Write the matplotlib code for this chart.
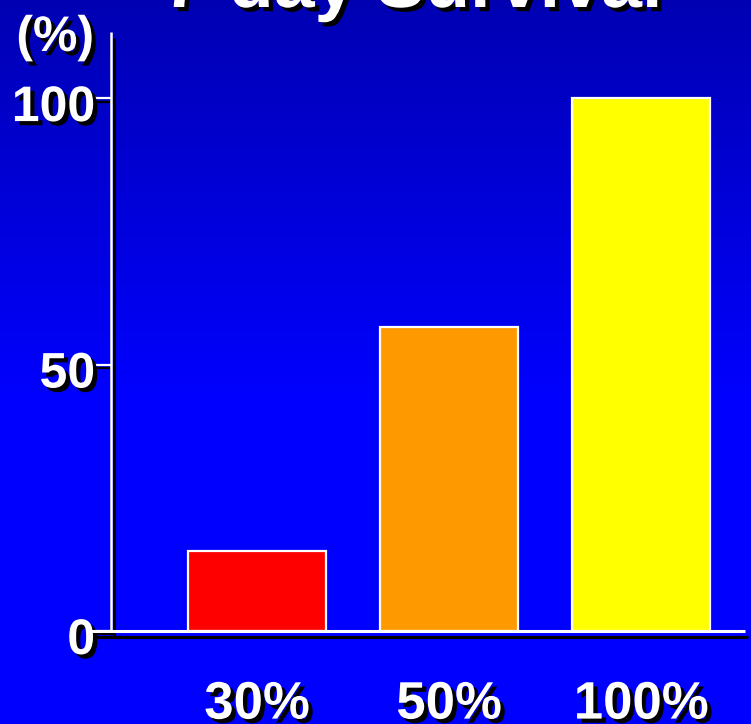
import numpy as np
import matplotlib
matplotlib.use("Agg")
import matplotlib.pyplot as plt
import matplotlib.patheffects as pe
import matplotlib.transforms as mtransforms

# Data
categories = ["30%", "50%", "100%"]
survival = [15, 57, 100]
bar_colors = ["#FF0000", "#FF9900", "#FFFF00"]
y_ticks = [0, 50, 100]
title = "7-day Survival"
y_unit = "(%)"

plt.rcParams["font.family"] = ["Liberation Sans", "DejaVu Sans"]
plt.rcParams["font.weight"] = "bold"

W, H = 751, 724
fig = plt.figure(figsize=(W / 100, H / 100), dpi=100)

# Vertical blue gradient background
bg = fig.add_axes([0, 0, 1, 1], zorder=-10)
t = np.linspace(0, 1, 400)[:, None]          # 0 at top, 1 at bottom
blue = 0.70 + 0.30 * np.clip(t / 0.55, 0, 1)
img = np.dstack([np.zeros_like(blue), np.zeros_like(blue), blue])
bg.imshow(img, aspect="auto", extent=[0, 1, 0, 1])
bg.set_axis_off()

shadow_txt = [pe.SimplePatchShadow(offset=(3, -3), shadow_rgbFace="black", alpha=1.0), pe.Normal()]
shadow_line = [pe.SimpleLineShadow(offset=(2.2, -4), shadow_color="black", alpha=1.0, linewidth=2.2), pe.Normal()]

left, right, bottom, top = 111, 745, 631, 32
ax = fig.add_axes([left / W, (H - bottom) / H, (right - left) / W, (bottom - top) / H])
ax.set_facecolor("none")

x = np.arange(len(categories))
ax.bar(x, survival, width=0.72, color=bar_colors, edgecolor="white", linewidth=1.6, zorder=2)

ax.set_xlim(-0.76, 2.54)
ax.set_ylim(0, 112.4)

for s in ["top", "right", "bottom", "left"]:
    ax.spines[s].set_visible(False)

# Axis lines with drop shadow
ax.plot([0, 0], [0, 1], transform=ax.transAxes, color="white", lw=1.8,
        clip_on=False, zorder=4, path_effects=shadow_line, solid_capstyle="butt")
ax.plot([-0.033, 1.0], [0, 0], transform=ax.get_yaxis_transform(), color="white", lw=2.2,
        clip_on=False, zorder=5, path_effects=shadow_line, solid_capstyle="butt")

ax.set_yticks(y_ticks)
ax.set_yticklabels([str(v) for v in y_ticks])
ax.tick_params(axis="y", length=13.5, width=1.6, color="white", pad=-2,
               labelsize=36, labelcolor="white")
for tl in ax.yaxis.get_ticklines():
    tl.set_path_effects([pe.SimpleLineShadow(offset=(1.5, -2.5), shadow_color="black", alpha=1.0), pe.Normal()])
shift = mtransforms.ScaledTranslation(0, -5 / 100, fig.dpi_scale_trans)
for lab in ax.get_yticklabels():
    lab.set_path_effects(shadow_txt)
    lab.set_transform(lab.get_transform() + shift)

ax.set_xticks(x)
ax.set_xticklabels(categories)
ax.tick_params(axis="x", length=0, pad=35, labelsize=38, labelcolor="white")
for lab in ax.get_xticklabels():
    lab.set_path_effects(shadow_txt)

ax.text(-0.088, 0.99, y_unit, transform=ax.transAxes, ha="center", va="center",
        fontsize=36, color="white", fontweight="bold", path_effects=shadow_txt)

fig.text(413 / W, (H - 7) / H, title, ha="center", va="baseline", fontsize=53,
         color="white", fontweight="bold", path_effects=shadow_txt)

fig.savefig("out.png", dpi=100)
